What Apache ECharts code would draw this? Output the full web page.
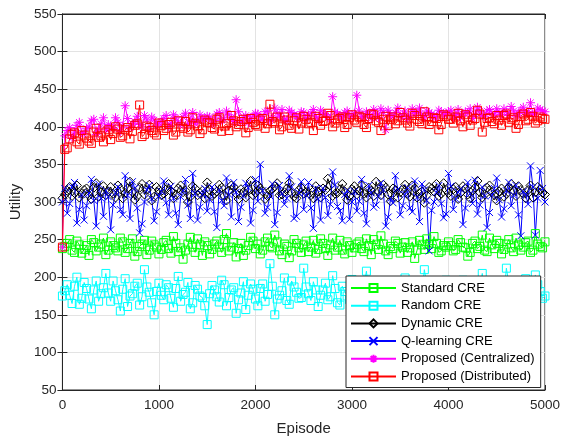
<!DOCTYPE html>
<html><head><meta charset="utf-8">
<script src="https://cdn.jsdelivr.net/npm/echarts@6/dist/echarts.min.js"></script>
<style>html,body{margin:0;padding:0;background:#fff}#c{width:563px;height:441px}</style>
</head><body><div id="c"></div>
<script>
const episodes = [0,
25,50,75,100,125,150,175,200,225,250,275,300,325,350,375,400,425,450,475,500,
525,550,575,600,625,650,675,700,725,750,775,800,825,850,875,900,925,950,975,1000,
1025,1050,1075,1100,1125,1150,1175,1200,1225,1250,1275,1300,1325,1350,1375,1400,1425,1450,1475,1500,
1525,1550,1575,1600,1625,1650,1675,1700,1725,1750,1775,1800,1825,1850,1875,1900,1925,1950,1975,2000,
2025,2050,2075,2100,2125,2150,2175,2200,2225,2250,2275,2300,2325,2350,2375,2400,2425,2450,2475,2500,
2525,2550,2575,2600,2625,2650,2675,2700,2725,2750,2775,2800,2825,2850,2875,2900,2925,2950,2975,3000,
3025,3050,3075,3100,3125,3150,3175,3200,3225,3250,3275,3300,3325,3350,3375,3400,3425,3450,3475,3500,
3525,3550,3575,3600,3625,3650,3675,3700,3725,3750,3775,3800,3825,3850,3875,3900,3925,3950,3975,4000,
4025,4050,4075,4100,4125,4150,4175,4200,4225,4250,4275,4300,4325,4350,4375,4400,4425,4450,4475,4500,
4525,4550,4575,4600,4625,4650,4675,4700,4725,4750,4775,4800,4825,4850,4875,4900,4925,4950,4975,5000];

const standardCRE = [238,
241,245,250,236,233,248,243,232,237,242,229,250,246,235,240,244,252,230,236,247,
242,239,235,252,247,233,238,245,251,228,234,241,244,249,230,236,248,243,240,231,
237,246,249,238,232,254,245,234,239,224,236,244,253,240,233,251,243,229,247,242,
231,237,244,248,240,233,250,258,235,240,246,227,238,245,229,236,242,253,248,238,
244,231,236,247,252,241,239,256,247,235,230,244,241,226,235,250,245,239,233,243,
248,234,240,249,232,237,251,245,238,229,243,252,236,240,249,236,231,247,242,233,
239,244,247,238,234,251,242,230,250,243,237,255,244,235,230,241,238,248,245,232,
240,246,233,239,247,225,236,249,243,237,251,244,238,254,245,233,235,242,240,247,
242,235,237,250,246,240,239,228,233,245,248,238,241,256,236,234,252,243,238,249,
245,231,237,244,250,239,234,252,243,236,240,246,248,233,236,258,244,241,239,247];

const randomCRE = [175,
182,190,176,165,188,200,164,172,193,185,171,158,183,195,168,178,186,205,179,168,
195,182,170,155,184,198,161,175,178,188,192,163,174,210,187,180,166,150,181,192,
176,170,190,186,172,160,185,201,168,177,180,193,158,166,189,184,175,173,162,137,
178,189,183,174,167,196,190,162,173,183,186,152,170,179,194,157,176,191,184,171,
162,185,191,168,177,218,188,150,171,176,182,199,169,164,195,187,180,172,173,212,
187,178,169,194,183,161,176,183,192,170,174,202,185,166,163,188,181,175,170,197,
184,163,172,181,190,208,178,169,165,186,179,155,187,192,171,174,193,184,176,167,
183,199,188,172,170,187,182,160,176,210,191,178,168,165,185,193,174,180,196,171,
179,188,173,159,186,196,169,176,194,183,178,168,181,205,171,162,189,190,166,177,
184,170,177,212,192,158,175,186,188,174,169,198,182,165,176,203,190,181,172,175];

const dynamicCRE = [305,
310,315,320,308,312,322,306,311,316,318,309,304,319,325,307,313,321,309,314,320,
311,306,322,317,305,312,318,327,313,303,308,319,324,310,316,323,302,307,320,316,
309,311,317,324,314,305,310,318,322,313,315,300,307,321,318,309,312,315,305,326,
316,308,311,314,323,319,308,302,315,322,320,311,304,317,313,306,317,328,309,312,
322,318,314,304,308,315,317,321,325,309,310,313,318,325,312,307,305,316,319,311,
313,320,309,305,321,314,306,318,316,331,322,308,311,312,317,324,314,303,308,317,
321,310,315,322,311,306,319,315,308,327,314,309,323,319,310,301,318,316,306,313,
317,323,311,307,322,318,306,311,314,299,309,320,318,314,324,308,311,325,316,312,
308,317,320,304,312,321,318,310,305,315,319,328,313,306,310,319,322,313,309,302,
314,318,307,311,319,324,315,308,321,316,311,305,316,322,306,313,320,317,312,310];

const qlearningCRE = [300,
318,285,298,320,326,272,290,310,276,295,312,330,302,268,324,305,281,315,307,263,
296,312,320,290,283,335,309,278,327,318,292,259,271,300,316,322,304,275,287,308,
314,328,299,283,321,305,285,270,307,315,330,296,278,338,311,276,293,310,318,288,
303,320,287,266,316,302,295,332,310,280,326,313,274,293,308,325,319,272,289,330,
301,350,315,285,293,308,324,270,286,322,311,297,305,335,320,278,281,312,327,290,
309,326,292,265,318,304,276,318,306,282,297,340,323,294,288,275,310,315,277,300,
314,288,301,330,285,271,322,312,293,296,308,325,316,268,280,305,299,335,317,283,
295,310,319,292,287,328,306,274,324,316,302,235,289,300,313,322,298,279,284,338,
321,290,304,313,317,270,292,326,311,298,329,284,296,320,308,266,286,309,318,332,
303,280,291,315,326,295,309,322,283,255,314,310,297,348,320,256,305,342,318,300];

const proposedCentralized = [240,
388,395,399,385,393,402,406,392,391,398,400,408,410,390,397,404,412,396,403,401,
398,412,406,394,401,428,411,399,404,407,414,403,400,415,409,397,413,409,402,405,
407,411,415,400,405,416,412,406,403,413,418,402,409,419,404,408,416,410,411,414,
413,404,408,417,419,409,410,421,416,412,407,436,420,406,412,415,405,411,414,418,
417,413,410,420,421,408,412,425,418,414,423,410,409,422,419,416,414,411,420,419,
411,415,418,423,414,409,422,418,416,413,410,440,420,417,415,412,419,421,413,416,
418,442,421,414,413,420,417,411,423,418,412,424,419,396,422,416,414,419,425,413,
416,421,411,415,424,418,419,425,415,412,421,419,417,414,413,422,420,416,418,420,
422,413,416,423,412,417,420,419,424,411,417,426,421,415,414,421,423,418,416,424,
419,416,424,420,415,427,421,414,418,422,426,418,420,432,417,417,425,423,421,420];

const proposedDistributed = [240,
370,372,384,390,392,380,377,395,389,385,381,378,393,398,386,388,380,393,396,383,
391,400,397,386,388,396,399,384,394,402,404,429,387,390,401,399,395,392,389,405,
402,395,398,403,406,389,393,408,400,398,407,393,396,412,404,401,391,396,409,406,
405,399,397,410,412,394,401,404,395,415,408,400,403,407,410,392,399,411,406,403,
401,409,411,398,404,430,407,405,413,396,400,413,409,402,398,408,412,397,405,414,
410,404,406,395,414,411,402,407,408,418,415,400,405,409,411,413,399,403,412,416,
409,406,414,412,403,399,411,417,416,408,406,395,410,414,402,410,413,404,408,419,
412,409,405,401,418,415,410,407,404,420,413,403,407,412,411,396,403,416,414,410,
410,405,413,418,408,400,416,413,402,409,411,422,417,393,406,411,412,407,404,415,
409,402,415,417,406,410,412,398,403,414,417,408,410,419,414,405,408,413,411,410];

const xTicks = [0,1000,2000,3000,4000,5000];
const yTicks = [50,100,150,200,250,300,350,400,450,500,550];

const SQ = 'path://M0,0L10,0L10,10L0,10Z';
const DM = 'path://M5,0L10,5L5,10L0,5Z';
const XS = 'path://M0,0L10,10M10,0L0,10';
const ST = 'path://M5,0L5,10M0,5L10,5M1.5,1.5L8.5,8.5M8.5,1.5L1.5,8.5';

function mk(name, vals, color, symbol, size) {
  return {
    name: name, type: 'line', data: episodes.map((e, i) => [e, vals[i]]),
    symbol: symbol, symbolSize: size, showAllSymbol: true,
    lineStyle: { color: color, width: 1 },
    itemStyle: { color: 'none', borderColor: color, borderWidth: 1 },
    emphasis: { disabled: true }
  };
}

const font = '"Liberation Sans", Arial, Helvetica, sans-serif';
const axisCol = '#262626';
const chart = echarts.init(document.getElementById('c'));
chart.setOption({
  animation: false,
  textStyle: { fontFamily: font },
  grid: { left: 62, right: 17, top: 14, bottom: 47, show: true, borderColor: axisCol, borderWidth: 1, backgroundColor: 'transparent' },
  xAxis: [{
    type: 'value', min: xTicks[0], max: xTicks[xTicks.length - 1], interval: 1000,
    name: 'Episode', nameLocation: 'middle', nameGap: 31,
    nameTextStyle: { fontSize: 15, color: axisCol, fontFamily: font },
    axisLine: { lineStyle: { color: axisCol } },
    axisTick: { inside: true, length: 5, lineStyle: { color: axisCol } },
    axisLabel: { fontSize: 13.5, color: axisCol, margin: 8, fontFamily: font, formatter: v => String(v) },
    splitLine: { show: true, lineStyle: { color: '#e3e3e3' } }
  }, {
    type: 'value', position: 'top', min: xTicks[0], max: xTicks[xTicks.length - 1], interval: 1000,
    axisLine: { lineStyle: { color: axisCol } },
    axisTick: { inside: true, length: 5, lineStyle: { color: axisCol } },
    axisLabel: { show: false }, splitLine: { show: false }
  }],
  yAxis: [{
    type: 'value', min: yTicks[0], max: yTicks[yTicks.length - 1], interval: 50,
    name: 'Utility', nameLocation: 'middle', nameGap: 34,
    nameTextStyle: { fontSize: 15, color: axisCol, fontFamily: font },
    axisLine: { show: true, lineStyle: { color: axisCol } },
    axisTick: { show: true, inside: true, length: 5, lineStyle: { color: axisCol } },
    axisLabel: { fontSize: 13.5, color: axisCol, margin: 6, fontFamily: font },
    splitLine: { show: true, lineStyle: { color: '#e3e3e3' } }
  }, {
    type: 'value', position: 'right', min: yTicks[0], max: yTicks[yTicks.length - 1], interval: 50,
    axisLine: { show: true, lineStyle: { color: axisCol } },
    axisTick: { show: true, inside: true, length: 5, lineStyle: { color: axisCol } },
    axisLabel: { show: false }, splitLine: { show: false }
  }],
  legend: {
    orient: 'vertical', left: 346, top: 276,
    backgroundColor: '#fff', borderColor: axisCol, borderWidth: 1,
    padding: [5, 6, 4, 4], itemWidth: 45, itemHeight: 10, itemGap: 3.7,
    textStyle: { fontSize: 13, color: '#000', fontFamily: font, lineHeight: 14 },
    data: ['Standard CRE', 'Random CRE', 'Dynamic CRE', 'Q-learning CRE', 'Proposed (Centralized)', 'Proposed (Distributed)']
  },
  series: [
    mk('Standard CRE', standardCRE, '#00ff00', SQ, 8),
    mk('Random CRE', randomCRE, '#00ffff', SQ, 8),
    mk('Dynamic CRE', dynamicCRE, '#000000', DM, 9),
    mk('Q-learning CRE', qlearningCRE, '#0000ff', XS, 7),
    mk('Proposed (Centralized)', proposedCentralized, '#ff00ff', ST, 9),
    mk('Proposed (Distributed)', proposedDistributed, '#ff0000', SQ, 8)
  ]
});
</script></body></html>
